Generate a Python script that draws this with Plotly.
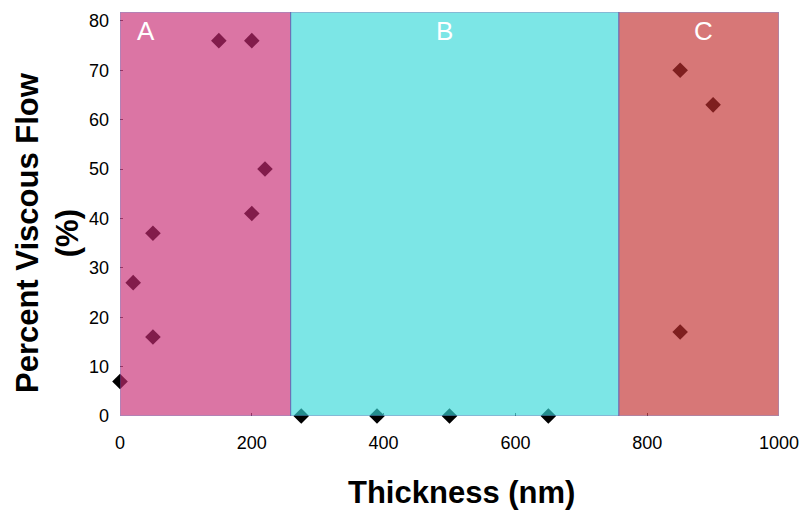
import plotly.graph_objects as go

thickness = [0, 20, 50, 50, 150, 200, 200, 220, 275, 390, 500, 650, 850, 900, 850]
viscous_flow = [7, 27, 37, 16, 76, 76, 41, 50, 0, 0, 0, 0, 70, 63, 17]

regions = ["A", "B", "C"]
region_bounds = [(0, 259), (259, 757), (757, 1000)]
region_label_x = [40, 493, 885]
region_colors = ["#c82c74", "#37d9d9", "#c33030"]

x_ticks = [0, 200, 400, 600, 800, 1000]
y_ticks = [0, 10, 20, 30, 40, 50, 60, 70, 80]

fig = go.Figure()
fig.add_trace(go.Scatter(
    x=thickness, y=viscous_flow, mode="markers",
    marker=dict(symbol="diamond", size=12, color="black"),
    cliponaxis=False, showlegend=False,
))

for name, (x0, x1), lx, col in zip(regions, region_bounds, region_label_x, region_colors):
    fig.add_shape(type="rect", xref="x", yref="y", x0=x0, x1=x1, y0=0, y1=81.8,
                  fillcolor=col, opacity=0.65, layer="above",
                  line=dict(color="#5050a8", width=1))
    fig.add_annotation(x=lx, y=78, text=name,
                       showarrow=False, xref="x", yref="y",
                       font=dict(color="white", size=26, family="Arial"))

fig.add_annotation(text="<b>Percent Viscous Flow<br>(%)</b>", textangle=-90,
                   xref="paper", yref="paper", x=-0.111, y=0.455,
                   xanchor="center", yanchor="middle", showarrow=False,
                   font=dict(size=31, family="Arial", color="black"))
fig.add_annotation(text="<b>Thickness (nm)</b>",
                   xref="paper", yref="paper", x=0.5175, y=-0.19,
                   xanchor="center", yanchor="middle", showarrow=False,
                   font=dict(size=31, family="Arial", color="black"))

fig.update_layout(
    width=804, height=512,
    margin=dict(l=120, r=25, t=12, b=96),
    plot_bgcolor="white", paper_bgcolor="white",
    font=dict(family="Arial", color="black"),
)
fig.update_xaxes(range=[0, 1000], tickvals=x_ticks, ticks="inside", ticklen=3,
                 tickfont=dict(size=18), showgrid=False, zeroline=False,
                 automargin=False, ticklabelstandoff=14)
fig.update_yaxes(range=[0, 81.8], tickvals=y_ticks, ticks="inside", ticklen=3,
                 tickfont=dict(size=18), showgrid=False, zeroline=False,
                 automargin=False, ticklabelstandoff=10)

fig.write_html("out.html")
